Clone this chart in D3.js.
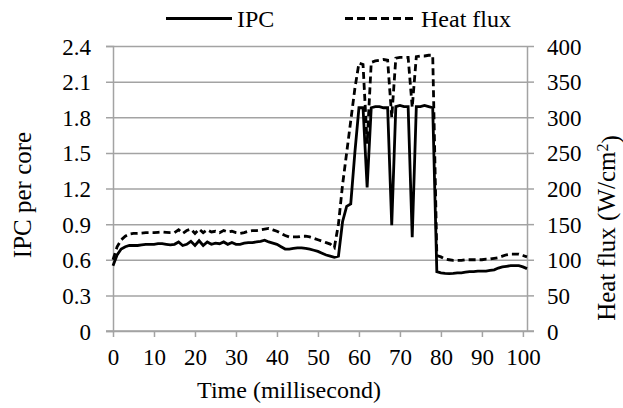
<!DOCTYPE html>
<html>
<head>
<meta charset="utf-8">
<script src="https://cdn.jsdelivr.net/npm/d3@7"></script>
<style>
  body { margin: 0; background: #fff; }
</style>
</head>
<body>
<svg width="623" height="408"></svg>
<script>
// time in ms, one sample per ms
var time = d3.range(0, 102)

var ipc = [
  0.55, 0.64, 0.69, 0.71, 0.72, 0.72, 0.72, 0.725, 0.73, 0.73,
  0.73, 0.735, 0.735, 0.73, 0.725, 0.73, 0.75, 0.72, 0.73, 0.755,
  0.72, 0.76, 0.72, 0.75, 0.73, 0.74, 0.735, 0.75, 0.73, 0.745,
  0.73, 0.73, 0.74, 0.745, 0.745, 0.75, 0.755, 0.765, 0.75, 0.74,
  0.73, 0.71, 0.69, 0.69, 0.695, 0.70, 0.70, 0.695, 0.69, 0.68,
  0.67, 0.655, 0.64, 0.63, 0.62, 0.63, 0.92, 1.05, 1.07, 1.50,
  1.88, 1.88, 1.21, 1.88, 1.89, 1.89, 1.88, 1.88, 0.89, 1.89,
  1.90, 1.89, 1.89, 0.79, 1.89, 1.89, 1.90, 1.89, 1.88, 0.50,
  0.49, 0.485, 0.483, 0.485, 0.49, 0.49, 0.495, 0.50, 0.50, 0.505,
  0.505, 0.505, 0.51, 0.515, 0.53, 0.54, 0.545, 0.55, 0.55, 0.55,
  0.54, 0.525
]

var heatFlux = [
  100, 118, 128, 133, 136, 137, 137, 137.5, 138, 138,
  138, 138.5, 139, 138.5, 138, 138, 142, 137, 141, 143,
  137, 143, 138, 142, 139, 140, 138, 141, 139, 140,
  138, 137, 138, 140, 141, 141, 142, 143, 144, 142,
  140, 137, 134, 132, 132, 132, 133, 133, 132, 130,
  128, 126, 124, 122, 117, 150, 205, 250, 295, 340,
  376, 374, 263, 377, 379, 380, 381, 380, 300, 383,
  384, 384, 384, 314, 385, 386, 386, 387, 387, 106,
  104, 101, 100, 99, 99, 99, 100, 100, 100, 100,
  100, 101, 101, 102, 103, 105, 107, 108, 108, 108,
  106, 104
]

var ipcTicks = [0, 0.3, 0.6, 0.9, 1.2, 1.5, 1.8, 2.1, 2.4]
var heatTicks = [0, 50, 100, 150, 200, 250, 300, 350, 400]
var timeTicks = [0, 10, 20, 30, 40, 50, 60, 70, 80, 90, 100]

var svg = d3.select('svg')
var fontF = "'Liberation Serif', 'DejaVu Serif', 'Noto Serif', serif"
var gridC = '#a3a3a3'
var plotL = 113
var plotR = 527
var plotT = 46
var plotB = 331

var x = d3.scaleLinear().domain([0, 101]).range([plotL, plotR])
var yL = d3.scaleLinear().domain([0, 2.4]).range([plotB, plotT])
var yR = d3.scaleLinear().domain([0, 400]).range([plotB, plotT])

// gridlines + left ticks
var gLeft = svg.append('g')
  .attr('transform', 'translate(' + plotL + ',0)')
  .call(d3.axisLeft(yL).tickValues(ipcTicks).tickSize(7).tickPadding(15)
    .tickFormat(d => d === 0 ? '0' : d3.format('.1f')(d)))
gLeft.selectAll('.tick line')
  .attr('x2', plotR - plotL).attr('x1', -7)
gLeft.selectAll('line, path').attr('stroke', gridC).attr('stroke-width', 1.5)
gLeft.selectAll('text').style('font-size', '23px').attr('dy', '0.35em')

var gRight = svg.append('g')
  .attr('transform', 'translate(' + plotR + ',0)')
  .call(d3.axisRight(yR).tickValues(heatTicks).tickSize(7).tickPadding(13).tickSizeOuter(0))
gRight.selectAll('line, path').attr('stroke', gridC).attr('stroke-width', 1.5)
gRight.selectAll('text').style('font-size', '23px').attr('dy', '0.35em')

var gX = svg.append('g')
  .attr('transform', 'translate(0,' + plotB + ')')
  .call(d3.axisBottom(x).tickValues(timeTicks).tickSize(6).tickPadding(12).tickSizeOuter(0))
gX.select('.domain').attr('d', 'M' + (plotL - 7) + ',0H' + (plotR + 7))
gX.selectAll('line, path').attr('stroke', gridC).attr('stroke-width', 1.5)
gX.selectAll('text').style('font-size', '23px')

// data lines
var ipcLine = d3.line().x((d, i) => x(time[i])).y(d => yL(d))
var heatLine = d3.line().x((d, i) => x(time[i])).y(d => yR(d))

svg.append('path')
  .datum(heatFlux)
  .attr('d', heatLine)
  .attr('fill', 'none')
  .attr('stroke', '#000')
  .attr('stroke-width', 2.8)
  .attr('stroke-dasharray', '7,4')

svg.append('path')
  .datum(ipc)
  .attr('d', ipcLine)
  .attr('fill', 'none')
  .attr('stroke', '#000')
  .attr('stroke-width', 2.8)

// axis titles
svg.append('text')
  .attr('x', 289).attr('y', 398)
  .attr('text-anchor', 'middle')
  .style('font-size', '24px')
  .text('Time (millisecond)')

svg.append('text')
  .attr('transform', 'translate(31,195) rotate(-90)')
  .attr('text-anchor', 'middle')
  .style('font-size', '25px')
  .text('IPC per core')

var rt = svg.append('text')
  .attr('transform', 'translate(615,228) rotate(-90)')
  .attr('text-anchor', 'middle')
  .style('font-size', '25px')
rt.append('tspan').text('Heat flux (W/cm')
rt.append('tspan').attr('dy', '-0.45em').style('font-size', '16px').text('2')
rt.append('tspan').attr('dy', '0.45em').text(')')

// legend
var legend = svg.append('g')
legend.append('line')
  .attr('x1', 166).attr('x2', 232).attr('y1', 18.5).attr('y2', 18.5)
  .attr('stroke', '#000').attr('stroke-width', 3)
legend.append('text')
  .attr('x', 237).attr('y', 27)
  .style('font-size', '24px')
  .text('IPC')
legend.append('line')
  .attr('x1', 345).attr('x2', 415).attr('y1', 18.5).attr('y2', 18.5)
  .attr('stroke', '#000').attr('stroke-width', 3)
  .attr('stroke-dasharray', '8,4')
legend.append('text')
  .attr('x', 421).attr('y', 27)
  .style('font-size', '24px')
  .text('Heat flux')

svg.selectAll('g').attr('font-family', null)
svg.selectAll('text')
  .attr('font-family', fontF)
  .style('fill', '#000')
</script>
</body>
</html>
